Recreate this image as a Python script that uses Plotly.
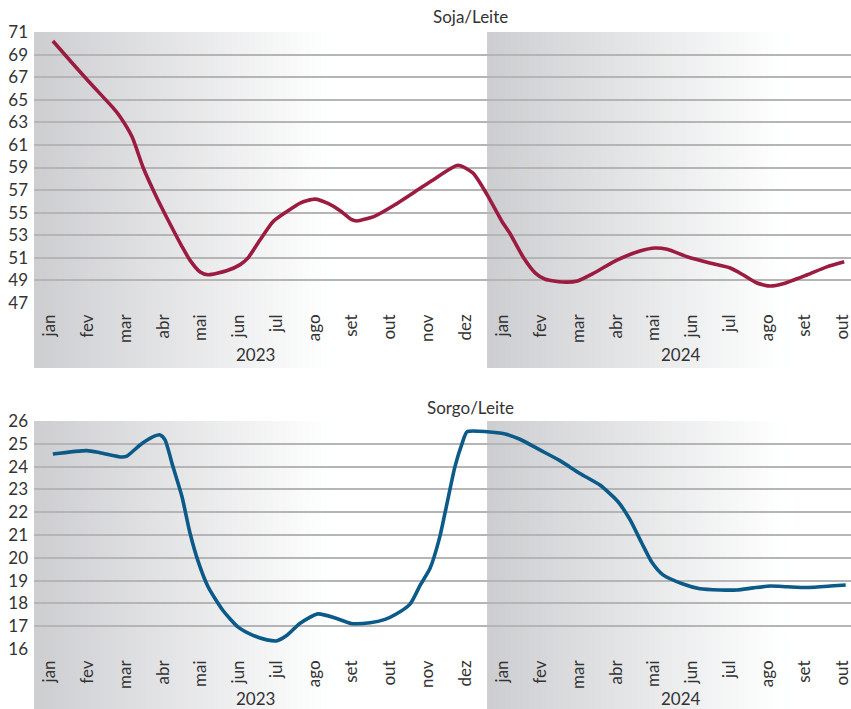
import plotly.graph_objects as go

# ---------------- data ----------------
months = ["jan", "fev", "mar", "abr", "mai", "jun", "jul", "ago", "set", "out", "nov", "dez",
          "jan", "fev", "mar", "abr", "mai", "jun", "jul", "ago", "set", "out"]
years = ["2023", "2024"]

# time position in months since jan/2023 (0 = jan 2023)
soja_t = [0.00, 0.50, 0.98, 1.59, 1.78, 2.10, 2.39, 2.70, 3.05, 3.42, 3.63, 3.90, 4.11,
          4.60, 4.96, 5.17, 5.49, 5.83, 6.20, 6.55, 6.94, 7.30, 7.60, 7.90, 8.05, 8.53,
          9.06, 9.73, 10.07, 10.73, 11.13, 11.50, 11.90, 12.10, 12.45, 12.78, 13.04,
          13.50, 13.90, 14.30, 14.94, 15.55, 15.95, 16.27, 16.80, 17.40, 17.94, 18.28,
          18.65, 19.00, 19.34, 19.98, 20.50, 20.96]
soja_v = [70.2, 68.3, 66.5, 64.3, 63.5, 61.7, 59.0, 56.7, 54.35, 52.0, 50.8, 49.75, 49.5,
          49.85, 50.4, 51.0, 52.6, 54.2, 55.1, 55.85, 56.2, 55.8, 55.2, 54.4, 54.26, 54.7,
          55.7, 57.16, 57.9, 59.2, 58.5, 56.6, 54.2, 53.2, 51.1, 49.65, 49.1,
          48.86, 48.95, 49.6, 50.8, 51.6, 51.87, 51.75, 51.1, 50.54, 50.1, 49.5,
          48.77, 48.5, 48.7, 49.5, 50.2, 50.65]

sorgo_t = [0.00, 0.90, 1.25, 1.83, 1.96, 2.31, 2.62, 2.84, 2.97, 3.18, 3.42, 3.63, 3.85,
           4.11, 4.50, 4.90, 5.30, 5.67, 5.94, 6.20, 6.55, 7.02, 7.50, 7.90, 8.40, 8.80,
           9.06, 9.46, 9.73, 9.99, 10.25, 10.44, 10.65, 10.84, 10.97, 11.50, 11.98,
           12.37, 12.90, 13.43, 13.96, 14.49, 14.97, 15.29, 15.60, 15.87, 16.16, 16.69,
           17.14, 17.67, 18.12, 18.55, 19.00, 19.45, 19.98, 20.59, 21.00]
sorgo_v = [24.55, 24.7, 24.61, 24.42, 24.46, 24.95, 25.28, 25.39, 25.17, 24.0, 22.68, 21.1,
           19.83, 18.73, 17.7, 16.97, 16.6, 16.4, 16.36, 16.6, 17.13, 17.54, 17.35, 17.12,
           17.15, 17.3, 17.5, 17.97, 18.8, 19.54, 20.93, 22.39, 24.0, 25.02, 25.53, 25.53,
           25.43, 25.2, 24.73, 24.26, 23.7, 23.19, 22.46, 21.66, 20.64, 19.79, 19.25, 18.85,
           18.64, 18.59, 18.59, 18.68, 18.76, 18.73, 18.7, 18.76, 18.81]

soja_yticks = list(range(47, 72, 2))
sorgo_yticks = list(range(16, 27))

# ---------------- layout geometry ----------------
W, H = 851, 709
ML, MR, MT, MB = 34, 0, 32, 60
PH = H - MT - MB  # paper height in px


def py(px):
    """pixel row -> paper y"""
    return (H - MB - px) / PH


top_dom = [py(303), 1.0]
bot_dom = [0.0, py(421)]
XR = [-0.5, 21.14]

FONT = "Lato, 'Open Sans', sans-serif"
FS = 17
TXT = "#333333"
GRID = "#b5b5b5"

fig = go.Figure()
fig.add_trace(go.Scatter(x=soja_t, y=soja_v, mode="lines", xaxis="x", yaxis="y",
                         line=dict(color="#9c1b40", width=3.6, shape="spline", smoothing=0.6),
                         showlegend=False, hoverinfo="skip"))
fig.add_trace(go.Scatter(x=sorgo_t, y=sorgo_v, mode="lines", xaxis="x2", yaxis="y2",
                         line=dict(color="#0b5a88", width=3.6, shape="spline", smoothing=0.6),
                         showlegend=False, hoverinfo="skip"))

# gradient background bands (one per year, per panel)
shapes = []
g0 = (205, 206, 209)
g1 = (255, 255, 255)
FRAC = 0.66
NSTRIP = 50
bands = [(py(32), py(368)), (py(421), py(709))]
for (ytop, ybot) in bands:
    for yi in range(len(years)):
        a = -0.5 + 12 * yi
        span = 12 * FRAC
        step = span / NSTRIP
        for k in range(NSTRIP):
            f = (k + 0.5) / NSTRIP
            c = tuple(round(g0[j] + (g1[j] - g0[j]) * f) for j in range(3))
            shapes.append(dict(type="rect", xref="x", yref="paper",
                               x0=a + k * step, x1=a + (k + 1) * step + step * 0.6,
                               y0=ybot, y1=ytop, layer="below",
                               line=dict(width=0),
                               fillcolor="rgb(%d,%d,%d)" % c))

annotations = [
    dict(text="Soja/Leite", xref="paper", yref="paper", x=(470 - ML) / (W - ML - MR), y=py(17),
         xanchor="center", yanchor="middle",
         showarrow=False, font=dict(family=FONT, size=FS, color=TXT)),
    dict(text="Sorgo/Leite", xref="paper", yref="paper", x=(470 - ML) / (W - ML - MR), y=py(407),
         xanchor="center", yanchor="middle",
         showarrow=False, font=dict(family=FONT, size=FS, color=TXT)),
]
for xa, ypx in (("x", 355), ("x2", 698)):
    for yi, yr in enumerate(years):
        annotations.append(dict(text=yr, xref=xa, yref="paper", x=5.37 + 11.26 * yi, y=py(ypx),
                                xanchor="center", yanchor="middle",
                                showarrow=False, font=dict(family=FONT, size=FS, color=TXT)))

xcommon = dict(range=XR, tickvals=list(range(len(months))), ticktext=months, tickangle=-90,
               showgrid=False, zeroline=False, showline=False, ticks="",
               ticklabelstandoff=7, ticklabelshift=-3, ticklabeloverflow="allow",
               tickfont=dict(family=FONT, size=FS, color=TXT),
               fixedrange=True)
ycommon = dict(showgrid=True, gridcolor=GRID, gridwidth=1.6, zeroline=False, showline=False,
               ticks="", ticklabelstandoff=5, tickfont=dict(family=FONT, size=FS, color=TXT),
               fixedrange=True)

fig.update_layout(
    width=W, height=H,
    margin=dict(l=ML, r=MR, t=MT, b=MB, autoexpand=False),
    paper_bgcolor="white", plot_bgcolor="rgba(0,0,0,0)",
    xaxis=dict(domain=[0, 1], anchor="y", **xcommon),
    yaxis=dict(domain=top_dom, anchor="x", range=[47, 71], tickvals=soja_yticks, **ycommon),
    xaxis2=dict(domain=[0, 1], anchor="y2", **xcommon),
    yaxis2=dict(domain=bot_dom, anchor="x2", range=[16, 26], tickvals=sorgo_yticks, **ycommon),
    shapes=shapes,
    annotations=annotations,
    showlegend=False,
)

fig.write_html("out.html")
